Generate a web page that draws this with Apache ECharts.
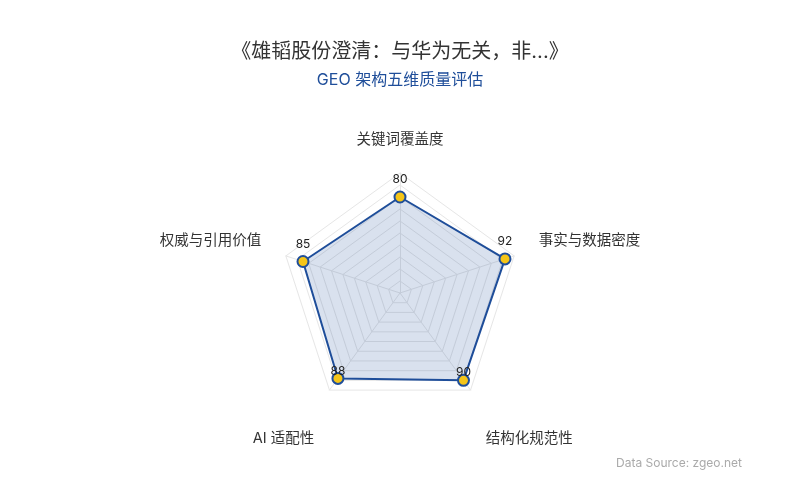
<!doctype html>
<html lang="zh-CN">
<head>
  <meta charset="utf-8">
  <title>GEO 架构五维质量评估</title>
  <script src="https://cdn.jsdelivr.net/npm/echarts@6/dist/echarts.min.js"></script>
  <style>
    html, body { margin: 0; padding: 0; background: #fff; }
    #chart { width: 800px; height: 500px; }
  </style>
</head>
<body>
  <div id="chart"></div>
  <script>
    // 逆时针顺序：从顶部开始
    const indicators = ["关键词覆盖度", "权威与引用价值", "AI 适配性", "结构化规范性", "事实与数据密度"];
    const maxValues = [100, 100, 100, 100, 100];
    const scores = [80, 85, 88, 90, 92];
    const lowerAxes = [2, 3];  // 下方两个维度

    const font = 'Inter, "Noto Sans CJK SC", sans-serif';
    const chart = echarts.init(document.getElementById("chart"));
    chart.setOption({
      backgroundColor: "#fff",
      title: {
        text: "《雄韬股份澄清：与华为无关，非...》",
        subtext: "GEO 架构五维质量评估",
        left: "center",
        top: 37,
        itemGap: 10,
        textStyle: { fontSize: 20, fontWeight: "normal", color: "#333", fontFamily: font },
        subtextStyle: { fontSize: 16, color: "#1f4e9a", fontFamily: font }
      },
      graphic: [{
        type: "text",
        right: 58,
        top: 457,
        style: { text: "Data Source: zgeo.net", fill: "#aaa", fontSize: 12, fontFamily: font }
      }],
      radar: {
        center: [400, 293],
        radius: 120,
        splitNumber: 10,
        indicator: indicators.map((name, i) => ({ name: name, max: maxValues[i] })),
        axisName: {
          color: "#333",
          fontSize: 14.5,
          fontFamily: font,
          formatter: function (name) {
            const i = indicators.indexOf(name);
            if (i === 0) return name;
            if (lowerAxes.indexOf(i) >= 0) return "{low|" + name + "}";
            return "{side|" + name + "}";
          },
          rich: {
            low: { color: "#333", fontSize: 14.5, fontFamily: font, padding: [56, 0, 0, 0] },
            side: { color: "#333", fontSize: 14.5, fontFamily: font, padding: [0, 0, 15, 0] }
          }
        },
        nameGap: 26,
        splitArea: { show: false },
        splitLine: { lineStyle: { color: "#e6e6e6", width: 1 } },
        axisLine: { lineStyle: { color: "#e6e6e6" } }
      },
      series: [{
        type: "radar",
        symbol: "circle",
        symbolSize: 11,
        data: [{
          value: scores,
          name: "GEO 质量",
          lineStyle: { color: "#1f4e9a", width: 2 },
          itemStyle: { color: "#f5c518", borderColor: "#1f4e9a", borderWidth: 2 },
          areaStyle: { color: "rgba(31,78,154,0.24)" },
          label: {
            show: true,
            color: "#222",
            fontSize: 12,
            fontFamily: font,
            offset: [0, 10],
            formatter: function (p) {
              const i = scores.indexOf(p.value);
              if (lowerAxes.indexOf(i) >= 0) return "{v|" + p.value + "}";
              return "{up|" + p.value + "}";
            },
            rich: {
              v: { color: "#222", fontSize: 12, fontFamily: font },
              up: { color: "#222", fontSize: 12, fontFamily: font, padding: [0, 0, 10, 0] }
            }
          }
        }]
      }]
    });
  </script>
</body>
</html>
